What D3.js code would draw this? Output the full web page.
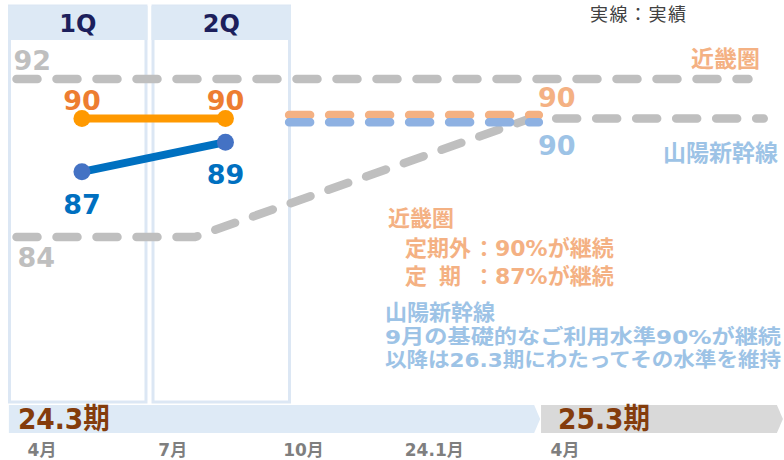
<!DOCTYPE html>
<html>
<head>
<meta charset="utf-8">
<script src="https://cdn.jsdelivr.net/npm/d3@7"></script>
<style>
  body { margin: 0; background: #fff; }
  svg { display: block; }
  text { font-family: "DejaVu Sans", "Noto Sans CJK JP", sans-serif; }
</style>
</head>
<body>
<svg id="chart" width="784" height="460"></svg>
<script>
// data
var quarters = ["1Q", "2Q"];
var kinkiActual = [90, 90];
var sanyoActual = [87.3, 88.8];
var kinkiActualLabels = ["90", "90"];
var sanyoActualLabels = ["87", "89"];

// forecast (dashed) lines, month index from 2023/4
var kinkiForecast = [{m: 5.67, v: 90.18}, {m: 11.4, v: 90.18}];
var sanyoForecast = [{m: 5.67, v: 89.81}, {m: 11.4, v: 89.81}];
var planUpper = [{m: -0.585, v: 92}, {m: 16.21, v: 92}];
var planLower = [{m: -0.585, v: 84}, {m: 3.51, v: 84}, {m: 11.2, v: 90}, {m: 16.56, v: 90}];

var monthTicks = [0, 3, 6, 9, 12];
var monthLabels = ["4月", "7月", "10月", "24.1月", "4月"];
var periods = [
  {label: "24.3期", start: -0.76, end: 11.43},
  {label: "25.3期", start: 11.45, end: 17.0}
];

var svg = d3.select("#chart");

var x = d3.scaleLinear().domain([0, 12]).range([42, 565]);
var y = d3.scaleLinear().domain([84, 92]).range([237, 79]);
var q = d3.scaleBand().domain(quarters).range([8, 291]).paddingInner(0.028).paddingOuter(0);
var qx = function(d) { return q(d) + q.bandwidth() * 0.53; };

// quarter panels
var panel = svg.append("g");
panel.selectAll("rect.frame").data(quarters).enter().append("rect")
  .attr("class", "frame")
  .attr("x", function(d) { return q(d) + 1.5; })
  .attr("y", 6)
  .attr("width", q.bandwidth() - 3)
  .attr("height", 396)
  .attr("fill", "none")
  .attr("stroke", "#dce7f4")
  .attr("stroke-width", 3);
panel.selectAll("rect.head").data(quarters).enter().append("rect")
  .attr("class", "head")
  .attr("x", function(d) { return q(d); })
  .attr("y", 6)
  .attr("width", q.bandwidth())
  .attr("height", 34)
  .attr("fill", "#dde9f5");
panel.selectAll("text").data(quarters).enter().append("text")
  .attr("x", function(d) { return q(d) + q.bandwidth() / 2; })
  .attr("y", 32)
  .attr("text-anchor", "middle")
  .attr("font-size", 24)
  .attr("font-weight", "bold")
  .attr("fill", "#1c1f5c")
  .text(function(d) { return d; });

// period arrows
var barTop = 405, barBot = 433, mid = (barTop + barBot) / 2;
var barColors = ["#deeaf6", "#d9d9d9"];
var bars = svg.append("g");
bars.selectAll("path").data(periods).enter().append("path")
  .attr("d", function(d) {
    var x0 = x(d.start), x1 = x(d.end);
    return "M" + x0 + "," + barTop + "L" + (x1 - 6) + "," + barTop + "L" + x1 + "," + mid +
      "L" + (x1 - 6) + "," + barBot + "L" + x0 + "," + barBot + "Z";
  })
  .attr("fill", function(d, i) { return barColors[i]; });
bars.selectAll("text").data(periods).enter().append("text")
  .attr("x", function(d, i) { return x(d.start) + (i ? 17 : 9); })
  .attr("y", 429)
  .attr("font-size", 29)
  .attr("font-weight", "bold")
  .attr("fill", "#843c0c")
  .attr("textLength", 92)
  .attr("lengthAdjust", "spacingAndGlyphs")
  .text(function(d) { return d.label; });

// month labels
svg.append("g").selectAll("text").data(monthTicks).enter().append("text")
  .attr("x", function(d) { return x(d); })
  .attr("y", 456)
  .attr("text-anchor", "middle")
  .attr("font-size", 17)
  .attr("font-weight", "bold")
  .attr("fill", "#7f7f7f")
  .text(function(d, i) { return monthLabels[i]; });

var line = d3.line().x(function(d) { return x(d.m); }).y(function(d) { return y(d.v); });

function dashed(data, color) {
  svg.append("path")
    .datum(data)
    .attr("d", line)
    .attr("fill", "none")
    .attr("stroke", color)
    .attr("stroke-width", 8.5)
    .attr("stroke-linecap", "round")
    .attr("stroke-dasharray", "21 19");
}
dashed(planUpper, "#bfbfbf");
dashed(planLower, "#bfbfbf");
dashed(kinkiForecast, "#f4b183");
dashed(sanyoForecast, "#8eb1e2");

// plan labels
svg.append("text").attr("x", x(planUpper[0].m) - 3).attr("y", y(92) - 9)
  .attr("font-size", 27).attr("font-weight", "bold").attr("fill", "#bfbfbf").text("92");
svg.append("text").attr("x", x(planLower[0].m) + 1).attr("y", y(84) + 30)
  .attr("font-size", 27).attr("font-weight", "bold").attr("fill", "#bfbfbf").text("84");

// forecast end labels
var fEnd = kinkiForecast[kinkiForecast.length - 1];
svg.append("text").attr("x", x(fEnd.m) + 18).attr("y", y(fEnd.v) - 8)
  .attr("text-anchor", "middle").attr("font-size", 27).attr("font-weight", "bold")
  .attr("fill", "#f4b183").text("90");
var sEnd = sanyoForecast[sanyoForecast.length - 1];
svg.append("text").attr("x", x(sEnd.m) + 18).attr("y", y(sEnd.v) + 33)
  .attr("text-anchor", "middle").attr("font-size", 27).attr("font-weight", "bold")
  .attr("fill", "#9dc3e6").text("90");

// actual lines
var qline = d3.line().x(function(d, i) { return qx(quarters[i]); }).y(function(d) { return y(d); });

function actual(values, labels, lineColor, dotColor, labelColor, dy) {
  var g = svg.append("g");
  g.append("path").datum(values).attr("d", qline)
    .attr("fill", "none").attr("stroke", lineColor).attr("stroke-width", 8);
  g.selectAll("circle").data(values).enter().append("circle")
    .attr("cx", function(d, i) { return qx(quarters[i]); })
    .attr("cy", function(d) { return y(d); })
    .attr("r", 8.5)
    .attr("fill", dotColor);
  g.selectAll("text").data(values).enter().append("text")
    .attr("x", function(d, i) { return qx(quarters[i]); })
    .attr("y", function(d) { return y(d) + dy; })
    .attr("text-anchor", "middle")
    .attr("font-size", 27)
    .attr("font-weight", "bold")
    .attr("fill", labelColor)
    .text(function(d, i) { return labels[i]; });
}
actual(kinkiActual, kinkiActualLabels, "#ff9900", "#ff9900", "#ed7d31", -9);
actual(sanyoActual, sanyoActualLabels, "#0070c0", "#4472c4", "#0070c0", 42);

// legend-ish labels
svg.append("text").attr("x", 590).attr("y", 21).attr("font-size", 18)
  .attr("letter-spacing", 1.5).attr("fill", "#404040")
  .style("font-family", "'Noto Sans CJK JP', sans-serif").text("実線：実績");
svg.append("text").attr("x", 760).attr("y", 67).attr("text-anchor", "end")
  .attr("font-size", 23).attr("font-weight", "bold").attr("fill", "#f4b183").text("近畿圏");
svg.append("text").attr("x", 778).attr("y", 161).attr("text-anchor", "end")
  .attr("font-size", 23).attr("font-weight", "bold").attr("fill", "#9dc3e6").text("山陽新幹線");

// notes
var notes = svg.append("g").attr("font-size", 22).attr("font-weight", "bold");
notes.append("text").attr("x", 388).attr("y", 226).attr("fill", "#f4b183").text("近畿圏");
notes.append("text").attr("x", 405).attr("y", 256).attr("fill", "#f4b183").text("定期外");
notes.append("text").attr("x", 473).attr("y", 256).attr("fill", "#f4b183").text("：90%が継続");
notes.append("text").attr("x", 405).attr("y", 284).attr("fill", "#f4b183")
  .attr("letter-spacing", 12).text("定期");
notes.append("text").attr("x", 473).attr("y", 284).attr("fill", "#f4b183").text("：87%が継続");
notes.append("text").attr("x", 385).attr("y", 320).attr("fill", "#9dc3e6").text("山陽新幹線");
notes.append("text").attr("x", 385).attr("y", 344).attr("fill", "#9dc3e6")
  .attr("font-size", 20).attr("textLength", 396).attr("lengthAdjust", "spacingAndGlyphs")
  .text("9月の基礎的なご利用水準90%が継続");
notes.append("text").attr("x", 385).attr("y", 367).attr("fill", "#9dc3e6")
  .attr("font-size", 20).attr("textLength", 396).attr("lengthAdjust", "spacingAndGlyphs")
  .text("以降は26.3期にわたってその水準を維持");
</script>
</body>
</html>
